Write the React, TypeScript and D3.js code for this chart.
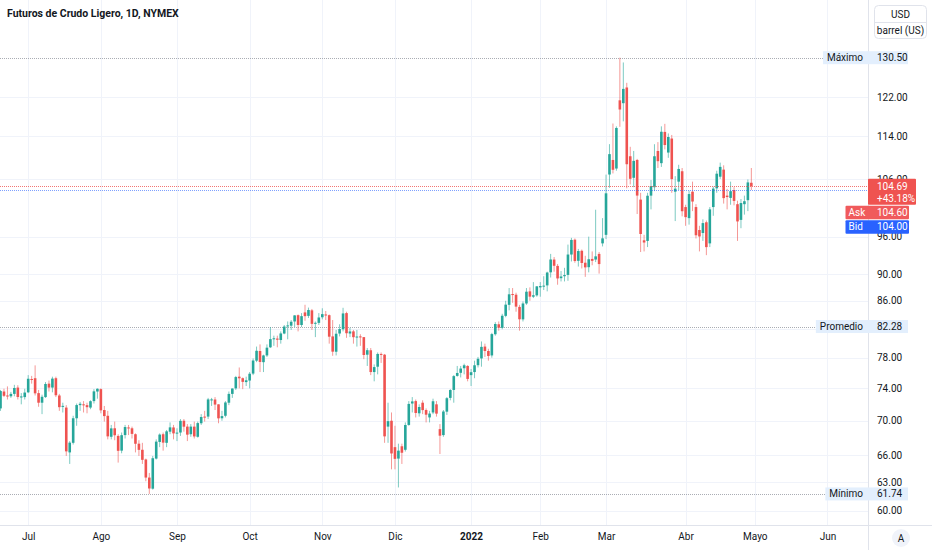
import * as React from 'react'
import { useEffect, useRef } from 'react'
import * as d3 from 'd3'

// daily bars: [open, high, low, close]
type Bar = [number, number, number, number]

const jun21: Bar[] = [
  [71.5, 73.8, 71.2, 73.66], [73.6, 73.96, 72.9, 73.06], [73.1, 74.25, 72.6, 73.08], [73.0, 73.55, 72.8, 73.3],
  [73.3, 74.45, 73.0, 74.05], [74.1, 74.4, 72.6, 72.91], [72.9, 73.4, 72.0, 72.98], [72.9, 73.95, 72.6, 73.47],
]
const jul21: Bar[] = [
  [73.5, 75.7, 73.4, 75.23], [75.2, 75.6, 74.6, 75.16], [75.3, 76.98, 73.1, 73.37], [73.4, 73.8, 71.7, 72.2],
  [72.2, 73.2, 70.8, 72.94], [72.9, 74.8, 72.8, 74.56], [74.6, 75.0, 73.6, 74.1], [74.1, 75.5, 73.5, 75.25],
  [75.3, 75.5, 72.9, 73.13], [73.1, 73.3, 71.2, 71.65], [71.7, 72.2, 71.0, 71.81], [71.6, 71.9, 65.9, 66.42],
  [66.3, 67.6, 65.0, 67.42], [67.4, 70.6, 67.2, 70.3], [70.3, 72.1, 69.4, 71.91], [71.9, 72.3, 71.2, 72.07],
  [72.0, 72.4, 71.0, 71.91], [71.9, 72.2, 70.9, 71.65], [71.6, 72.5, 71.4, 72.39], [72.4, 73.9, 72.1, 73.62],
  [73.6, 74.0, 72.7, 73.95],
]
const aug21: Bar[] = [
  [73.9, 74.0, 70.9, 71.26], [71.3, 71.8, 69.9, 70.56], [70.6, 71.2, 67.8, 68.15], [68.1, 69.5, 67.8, 69.09],
  [69.1, 69.9, 67.7, 68.28], [68.2, 68.4, 65.15, 66.48], [66.5, 68.6, 66.2, 68.29], [68.3, 69.5, 67.9, 69.25],
  [69.2, 69.5, 68.3, 69.09], [69.1, 69.3, 67.9, 68.44], [68.4, 68.5, 66.3, 67.29], [67.3, 67.7, 65.9, 66.59],
  [66.6, 67.4, 65.0, 65.46], [65.5, 65.6, 63.1, 63.5], [63.5, 64.0, 61.74, 62.32], [62.3, 65.9, 62.2, 65.64],
  [65.6, 67.8, 65.5, 67.54], [67.5, 68.5, 66.9, 68.36], [68.4, 68.6, 66.5, 67.42], [67.4, 68.9, 66.9, 68.74],
  [68.7, 69.8, 68.4, 69.21], [69.2, 69.5, 67.8, 68.5],
]
const sep21: Bar[] = [
  [68.5, 69.1, 67.6, 68.59], [68.6, 70.2, 68.2, 69.99], [70.0, 70.2, 68.7, 69.29], [69.3, 69.6, 67.6, 68.35],
  [68.4, 69.6, 68.1, 69.3], [69.3, 69.9, 67.9, 68.14], [68.1, 69.9, 68.0, 69.72], [69.7, 70.8, 69.5, 70.45],
  [70.5, 71.2, 69.9, 70.46], [70.5, 72.8, 70.2, 72.61], [72.6, 72.8, 71.8, 72.61], [72.6, 72.9, 71.3, 71.97],
  [72.0, 72.0, 69.7, 70.29], [70.3, 71.2, 70.0, 70.56], [70.6, 72.4, 70.4, 72.23], [72.2, 73.6, 71.9, 73.3],
  [73.3, 74.0, 72.8, 73.98], [74.0, 75.6, 73.8, 75.45], [75.5, 76.7, 74.0, 75.29], [75.3, 75.4, 73.9, 74.83],
  [74.8, 75.5, 74.3, 75.03],
]
const oct21: Bar[] = [
  [75.0, 76.1, 74.0, 75.88], [75.9, 77.9, 75.7, 77.62], [77.6, 79.5, 77.4, 78.93], [78.9, 79.8, 76.1, 77.43],
  [77.4, 78.4, 76.1, 78.3], [78.3, 79.8, 78.1, 79.35], [79.4, 82.2, 79.3, 80.52], [80.5, 81.0, 79.6, 80.64],
  [80.6, 81.0, 79.4, 80.44], [80.4, 81.6, 79.9, 81.31], [81.3, 82.5, 81.2, 82.28], [82.3, 83.0, 80.5, 82.44],
  [82.4, 83.2, 81.8, 82.96], [83.0, 83.9, 82.2, 83.87], [83.9, 84.0, 81.6, 82.5], [82.5, 84.2, 82.2, 83.76],
  [84.3, 85.41, 83.1, 83.76], [83.8, 85.0, 83.5, 84.65], [84.6, 84.8, 81.8, 82.66], [82.7, 83.0, 80.8, 82.81],
  [82.8, 84.2, 82.5, 83.57],
]
const nov21: Bar[] = [
  [83.6, 84.9, 83.3, 84.05], [84.0, 84.5, 83.2, 83.91], [83.9, 84.0, 79.9, 80.86], [80.9, 83.2, 78.25, 78.81],
  [78.8, 81.8, 78.3, 81.27], [81.3, 82.6, 80.9, 81.93], [81.9, 84.97, 81.6, 84.15], [84.2, 84.4, 80.7, 81.34],
  [81.3, 82.1, 80.8, 81.59], [81.6, 81.8, 79.9, 80.79], [80.8, 81.8, 79.5, 80.88], [80.9, 81.2, 79.6, 80.76],
  [80.8, 80.8, 77.8, 78.36], [78.4, 79.3, 76.9, 79.01], [79.0, 79.3, 75.7, 76.1], [76.1, 77.1, 74.9, 76.75],
  [76.8, 78.7, 75.8, 78.5], [78.5, 78.7, 77.3, 78.39], [78.4, 78.5, 67.4, 68.15], [69.3, 72.2, 67.4, 69.95],
  [70.0, 71.0, 64.4, 66.18],
]
const dec21: Bar[] = [
  [66.9, 69.4, 64.4, 65.57], [65.6, 67.3, 62.43, 66.5], [67.0, 67.3, 65.0, 66.26], [66.6, 69.8, 66.4, 69.49],
  [69.5, 72.4, 69.4, 72.05], [72.1, 72.9, 71.0, 72.36], [72.4, 72.6, 70.4, 70.94], [70.9, 72.0, 70.5, 71.67],
  [72.2, 72.5, 70.8, 71.29], [71.3, 71.5, 69.8, 70.73], [70.4, 71.2, 69.8, 70.87], [71.0, 72.7, 70.8, 72.38],
  [72.0, 72.4, 70.5, 70.86], [69.0, 69.6, 66.12, 68.23], [68.3, 71.3, 68.1, 71.12], [71.1, 72.9, 70.7, 72.76],
  [72.8, 73.9, 72.5, 73.79], [73.8, 75.7, 72.2, 75.57], [75.6, 76.9, 75.5, 75.98], [76.0, 76.9, 75.4, 76.56],
  [76.6, 77.2, 75.8, 76.99], [76.9, 77.0, 74.9, 75.21],
]
const jan22: Bar[] = [
  [75.7, 76.5, 74.3, 76.08], [76.1, 77.6, 75.3, 76.99], [77.0, 78.1, 76.7, 77.85], [77.9, 80.2, 76.8, 79.46],
  [79.5, 79.9, 78.1, 78.9], [78.9, 79.2, 77.6, 78.23], [78.3, 81.4, 78.0, 81.22], [81.2, 82.9, 81.0, 82.64],
  [82.6, 83.0, 81.7, 82.12], [82.1, 84.1, 81.9, 83.82], [83.8, 86.0, 83.6, 85.43], [85.4, 87.9, 84.6, 86.96],
  [87.0, 87.9, 85.7, 86.9], [86.9, 87.2, 84.4, 85.14], [85.1, 85.4, 81.7, 83.31], [83.3, 85.9, 83.0, 85.6],
  [85.6, 87.9, 85.4, 87.35], [87.4, 88.0, 86.0, 86.61], [86.6, 88.8, 86.4, 86.82], [86.8, 88.2, 86.6, 88.15],
]
const feb22: Bar[] = [
  [88.0, 88.8, 86.6, 88.2], [88.2, 89.7, 87.6, 88.26], [88.3, 90.4, 87.4, 90.27], [90.3, 93.2, 89.5, 92.31],
  [92.3, 92.7, 90.4, 91.32], [91.3, 91.6, 88.4, 89.36], [89.4, 90.5, 88.9, 89.66], [89.7, 91.0, 88.9, 89.88],
  [89.9, 94.7, 89.0, 93.1], [93.1, 95.8, 92.0, 95.46], [95.5, 95.7, 91.8, 92.07], [92.1, 94.0, 91.2, 93.66],
  [93.7, 93.9, 90.9, 91.76], [91.8, 92.9, 89.6, 91.07], [91.1, 96.0, 90.3, 92.35], [92.4, 93.6, 91.4, 92.1],
  [92.3, 100.54, 91.9, 92.81], [93.2, 93.5, 90.1, 91.59], [94.9, 99.1, 94.4, 95.72],
]
const mar22: Bar[] = [
  [96.3, 106.78, 95.6, 103.41], [106.8, 112.51, 104.4, 110.6], [109.5, 116.57, 107.0, 107.67], [107.9, 116.0, 107.5, 115.68],
  [121.3, 130.5, 115.9, 119.4], [120.7, 129.44, 117.0, 123.7], [124.0, 125.0, 104.3, 108.7], [110.2, 112.0, 105.0, 106.02],
  [106.2, 111.2, 104.5, 109.33], [109.5, 109.7, 99.8, 103.01], [102.3, 103.5, 93.5, 96.44], [95.4, 96.3, 93.6, 95.04],
  [95.3, 103.5, 94.3, 102.98], [103.0, 105.8, 100.6, 104.7], [104.5, 112.5, 103.8, 110.2], [111.2, 112.9, 108.0, 109.27],
  [108.9, 116.0, 108.2, 114.93], [114.9, 116.5, 111.5, 112.34], [110.9, 114.6, 109.9, 113.9], [113.6, 114.3, 103.5, 105.96],
  [103.7, 106.5, 98.6, 104.24], [105.5, 108.6, 104.0, 107.82], [107.4, 108.0, 99.4, 100.28],
]
const apr22: Bar[] = [
  [101.0, 101.4, 97.8, 99.27], [99.1, 103.9, 98.0, 103.28], [103.7, 105.5, 100.3, 101.96], [101.0, 101.5, 95.7, 96.23],
  [97.1, 97.8, 93.6, 96.03], [96.6, 98.9, 95.3, 98.26], [98.4, 98.7, 93.0, 94.29], [94.9, 101.0, 94.3, 100.6],
  [101.0, 104.6, 99.5, 104.25], [104.3, 107.5, 103.5, 106.95], [106.4, 109.0, 106.0, 108.21], [107.7, 108.5, 101.6, 102.56],
  [103.0, 104.2, 100.6, 102.75], [102.6, 105.5, 101.4, 103.79], [104.0, 104.5, 101.3, 102.07], [101.5, 102.1, 95.3, 98.54],
  [98.8, 102.4, 97.4, 101.7], [101.5, 103.0, 99.7, 102.02], [102.2, 105.9, 100.3, 105.36], [105.3, 108.0, 104.0, 104.69],
]

// month labels, "2022" is the year start
const monthLabels = ['Jul', 'Ago', 'Sep', 'Oct', 'Nov', 'Dic', '2022', 'Feb', 'Mar', 'Abr']
const futureMonths = [{ label: 'Mayo', bars: 21 }, { label: 'Jun', bars: 22 }]
const yTicks = [60, 63, 66, 70, 74, 78, 82, 86, 90, 96, 106, 114, 122]

const stats = [
  { name: 'Máximo', value: 130.5 },
  { name: 'Promedio', value: 82.28 },
  { name: 'Mínimo', value: 61.74 },
]
const lastPrice = 104.69
const changePct = '+43.18%'
const askPrice = 104.6
const bidPrice = 104.0

const title = 'Futuros de Crudo Ligero, 1D, NYMEX'

const W = 932
const H = 550
const SCALE_X = 868 // price scale starts
const SCALE_Y = 525 // time scale starts
const UP = '#26a69a'
const DOWN = '#ef5350'
const FONT = 'Roboto, "Liberation Sans", sans-serif'
const TEXT = '#131722'

export default function App() {
  const svgRef = useRef<SVGSVGElement>(null)

  useEffect(() => {
    if (!svgRef.current) return
    const svg = d3.select(svgRef.current)
    svg.selectAll('*').remove()

    const monthsData = [jul21, aug21, sep21, oct21, nov21, dec21, jan22, feb22, mar22, apr22]

    // flatten bars with an index counted from the first July session
    const candles: { i: number; o: number; h: number; l: number; c: number }[] = []
    jun21.forEach((b, k) => candles.push({ i: k - jun21.length, o: b[0], h: b[1], l: b[2], c: b[3] }))
    const monthStarts: { label: string; i: number }[] = []
    let idx = 0
    monthsData.forEach((m, mi) => {
      monthStarts.push({ label: monthLabels[mi], i: idx })
      m.forEach(b => {
        candles.push({ i: idx, o: b[0], h: b[1], l: b[2], c: b[3] })
        idx++
      })
    })
    futureMonths.forEach(fm => {
      monthStarts.push({ label: fm.label, i: idx })
      idx += fm.bars
    })

    const x = d3.scaleLinear().domain([0, 210]).range([28.2, 754.8])
    const y = d3.scaleLog().domain([60, 130.5]).range([510.6, 57.7])

    svg.append('rect').attr('width', W).attr('height', H).attr('fill', '#fff')

    svg.append('defs').append('clipPath').attr('id', 'plot')
      .append('rect').attr('x', 0).attr('y', 0).attr('width', SCALE_X).attr('height', SCALE_Y)

    // grid
    const grid = svg.append('g').attr('clip-path', 'url(#plot)')
    grid.selectAll('line.h').data(yTicks).join('line')
      .attr('x1', 0).attr('x2', SCALE_X)
      .attr('y1', d => Math.round(y(d)) + 0.5).attr('y2', d => Math.round(y(d)) + 0.5)
      .attr('stroke', '#f0f3fa')
    grid.selectAll('line.v').data(monthStarts).join('line')
      .attr('x1', d => Math.round(x(d.i)) + 0.5).attr('x2', d => Math.round(x(d.i)) + 0.5)
      .attr('y1', 0).attr('y2', SCALE_Y)
      .attr('stroke', '#f0f3fa')

    // stat lines
    grid.selectAll('line.stat').data(stats).join('line')
      .attr('x1', 0).attr('x2', SCALE_X)
      .attr('y1', d => Math.round(y(d.value)) + 0.5).attr('y2', d => Math.round(y(d.value)) + 0.5)
      .attr('stroke', '#9598a1').attr('stroke-dasharray', '1,1').attr('stroke-opacity', 0.8)

    // candles
    const bw = 2.6
    const cg = svg.append('g').attr('clip-path', 'url(#plot)')
    cg.selectAll('line.wick').data(candles).join('line')
      .attr('x1', d => x(d.i)).attr('x2', d => x(d.i))
      .attr('y1', d => y(d.h)).attr('y2', d => y(d.l))
      .attr('stroke', d => (d.c >= d.o ? UP : DOWN))
      .attr('stroke-opacity', 0.6)
      .attr('stroke-width', 1)
    cg.selectAll('rect.body').data(candles).join('rect')
      .attr('x', d => x(d.i) - bw / 2)
      .attr('width', bw)
      .attr('y', d => y(Math.max(d.o, d.c)))
      .attr('height', d => Math.max(1, Math.abs(y(d.o) - y(d.c))))
      .attr('fill', d => (d.c >= d.o ? UP : DOWN))

    // last price / bid lines
    svg.append('line')
      .attr('x1', 0).attr('x2', SCALE_X)
      .attr('y1', Math.round(y(lastPrice)) + 0.5).attr('y2', Math.round(y(lastPrice)) + 0.5)
      .attr('stroke', DOWN).attr('stroke-dasharray', '1,1').attr('stroke-opacity', 0.8)
    svg.append('line')
      .attr('x1', 0).attr('x2', SCALE_X)
      .attr('y1', Math.round(y(bidPrice)) + 0.5).attr('y2', Math.round(y(bidPrice)) + 0.5)
      .attr('stroke', '#2962ff').attr('stroke-dasharray', '1,1').attr('stroke-opacity', 0.6)

    // scale borders
    svg.append('line').attr('x1', SCALE_X + 0.5).attr('x2', SCALE_X + 0.5).attr('y1', 0).attr('y2', H)
      .attr('stroke', '#e0e3eb')
    svg.append('line').attr('x1', 0).attr('x2', W).attr('y1', SCALE_Y + 0.5).attr('y2', SCALE_Y + 0.5)
      .attr('stroke', '#e0e3eb')

    // price axis (ticks hidden under the value labels are left out)
    const covered = (v: number) =>
      stats.some(s => Math.abs(y(s.value) - y(v)) < 9) ||
      (y(v) > y(lastPrice) - 4 && y(v) < y(lastPrice) + 45)
    const yAxis = d3.axisRight(y).tickValues(yTicks.filter(v => !covered(v)))
      .tickFormat(d => (d as number).toFixed(2)).tickSize(0).tickPadding(0)
    const ya = svg.append('g').attr('transform', `translate(${SCALE_X + 9},0)`).call(yAxis as any)
    ya.select('.domain').remove()
    ya.selectAll('text').attr('font-family', FONT).attr('font-size', 10).attr('fill', TEXT)

    // time axis
    const xAxis = d3.axisBottom(x).tickValues(monthStarts.map(d => d.i))
      .tickFormat((d, k) => monthStarts[k].label).tickSize(0).tickPadding(0)
    const xa = svg.append('g').attr('transform', `translate(0,${SCALE_Y + 8})`).call(xAxis as any)
    xa.select('.domain').remove()
    xa.selectAll('text').attr('font-family', FONT).attr('font-size', 10).attr('fill', TEXT)
      .attr('font-weight', (_d, k) => (monthStarts[k].label === '2022' ? 700 : 400))

    // stat labels
    stats.forEach(s => {
      const cy = y(s.value)
      const g = svg.append('g')
      const name = g.append('text').text(s.name)
        .attr('x', SCALE_X - 5).attr('y', cy).attr('dy', '0.35em')
        .attr('text-anchor', 'end').attr('font-family', FONT).attr('font-size', 10).attr('fill', TEXT)
      const nw = (name.node() as SVGTextElement).getComputedTextLength()
      g.insert('rect', 'text')
        .attr('x', SCALE_X - 5 - nw - 4).attr('y', cy - 6.5)
        .attr('width', nw + 4 + 5 + 40).attr('height', 13)
        .attr('fill', '#e3effd')
      g.append('text').text(s.value.toFixed(2))
        .attr('x', SCALE_X + 9).attr('y', cy).attr('dy', '0.35em')
        .attr('font-family', FONT).attr('font-size', 10).attr('fill', TEXT)
    })

    // partly covered tick labels next to the last price box
    const ly = y(lastPrice)
    const hidden = yTicks.filter(v => covered(v) && !stats.some(s => Math.abs(y(s.value) - y(v)) < 9))
    svg.append('g').selectAll('text').data(hidden).join('text')
      .text(d => d.toFixed(2))
      .attr('x', SCALE_X + 9).attr('y', d => y(d)).attr('dy', '0.35em')
      .attr('font-family', FONT).attr('font-size', 10).attr('fill', TEXT)

    // last price label
    svg.append('rect').attr('x', SCALE_X).attr('y', ly - 7.5).attr('width', 48).attr('height', 26)
      .attr('fill', DOWN).attr('rx', 1)
    svg.append('text').text(lastPrice.toFixed(2)).attr('x', SCALE_X + 9).attr('y', ly).attr('dy', '0.35em')
      .attr('font-family', FONT).attr('font-size', 10).attr('fill', '#fff')
    svg.append('text').text(changePct).attr('x', SCALE_X + 9).attr('y', ly + 12).attr('dy', '0.35em')
      .attr('font-family', FONT).attr('font-size', 10).attr('fill', '#fff')

    const rows = [
      { name: 'Ask', value: askPrice, color: '#f05a5c' },
      { name: 'Bid', value: bidPrice, color: '#2962ff' },
    ]
    rows.forEach((r, k) => {
      const top = ly + 19.5 + k * 14.5
      svg.append('rect').attr('x', SCALE_X - 22.5).attr('y', top).attr('width', 63.5).attr('height', 13.5)
        .attr('fill', r.color).attr('rx', 1)
      svg.append('text').text(r.name).attr('x', SCALE_X - 19.5).attr('y', top + 6.75).attr('dy', '0.35em')
        .attr('font-family', FONT).attr('font-size', 10).attr('fill', '#fff')
      svg.append('text').text(r.value.toFixed(2)).attr('x', SCALE_X + 9).attr('y', top + 6.75).attr('dy', '0.35em')
        .attr('font-family', FONT).attr('font-size', 10).attr('fill', '#fff')
    })

    // currency / unit box
    const ub = svg.append('g')
    ub.append('rect').attr('x', 874.5).attr('y', 5.5).attr('width', 52).attr('height', 33).attr('rx', 4)
      .attr('fill', '#fff').attr('stroke', '#e0e3eb')
    ub.append('line').attr('x1', 874.5).attr('x2', 926.5).attr('y1', 22.5).attr('y2', 22.5).attr('stroke', '#e0e3eb')
    ub.append('text').text('USD').attr('x', 900.5).attr('y', 14.5).attr('dy', '0.35em').attr('text-anchor', 'middle')
      .attr('font-family', FONT).attr('font-size', 10).attr('fill', TEXT)
    ub.append('text').text('barrel (US)').attr('x', 900.5).attr('y', 30.5).attr('dy', '0.35em').attr('text-anchor', 'middle')
      .attr('font-family', FONT).attr('font-size', 10).attr('fill', TEXT)

    // auto-scale button
    svg.append('circle').attr('cx', 901).attr('cy', 538).attr('r', 9).attr('fill', '#f0f3fa')
    svg.append('text').text('A').attr('x', 901).attr('y', 538).attr('dy', '0.35em').attr('text-anchor', 'middle')
      .attr('font-family', FONT).attr('font-size', 10).attr('fill', TEXT)

    // title
    svg.append('text').text(title).attr('x', 7).attr('y', 17)
      .attr('font-family', FONT).attr('font-size', 10.5).attr('font-weight', 700).attr('fill', TEXT)
  }, [])

  return (
    <svg
      ref={svgRef}
      width={W}
      height={H}
      style={{ position: 'absolute', left: 0, top: 0, display: 'block' }}
    />
  )
}
